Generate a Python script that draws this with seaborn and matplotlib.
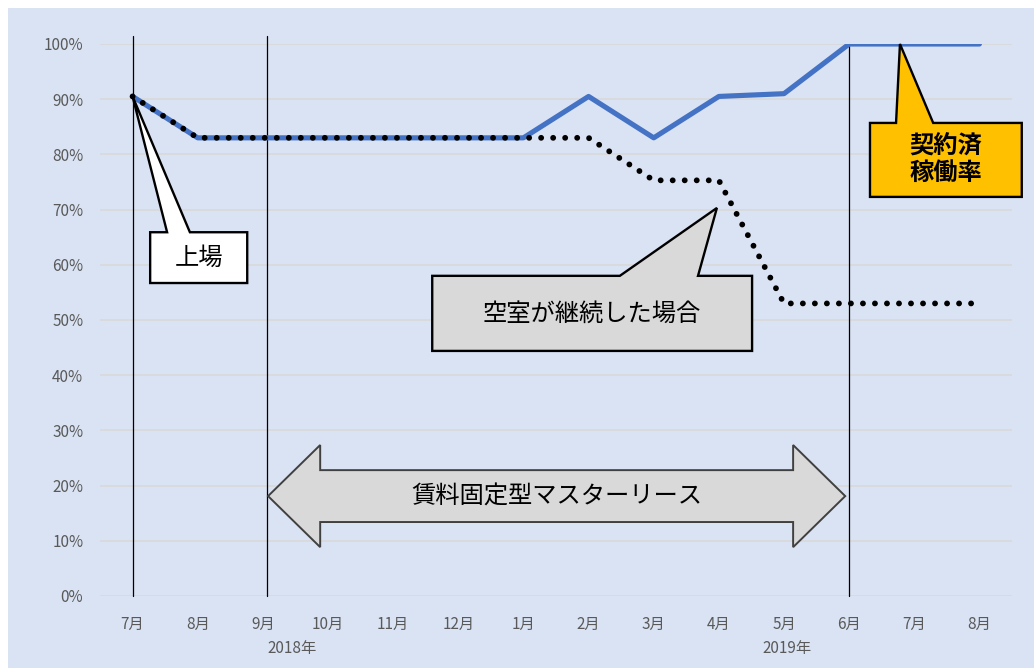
import matplotlib
matplotlib.use("Agg")
import matplotlib.pyplot as plt
from matplotlib.patches import Polygon, Rectangle
import seaborn as sns
import pandas as pd
import numpy as np

# 月別稼働率（2018年7月〜2019年8月）
months = ["7月", "8月", "9月", "10月", "11月", "12月", "1月",
          "2月", "3月", "4月", "5月", "6月", "7月", "8月"]
contracted_rate = [90.5, 83, 83, 83, 83, 83, 83, 90.5, 83, 90.5, 91, 100, 100, 100]
vacancy_rate = [90.5, 83, 83, 83, 83, 83, 83, 83, 75.3, 75.3, 53, 53, 53, 53]
y_ticks = [0, 10, 20, 30, 40, 50, 60, 70, 80, 90, 100]
year_labels = ["2018年", "2019年"]

BG = "#DAE3F3"
sns.set_theme(style="white")
plt.rcParams["font.family"] = ["Noto Sans CJK JP", "DejaVu Sans"]

fig = plt.figure(figsize=(10.34, 6.68), dpi=100)
fig.patch.set_facecolor("white")
fig.patches.append(Rectangle((8 / 1034, 0), 1 - 8 / 1034, 1 - 8 / 668,
                             transform=fig.transFigure, facecolor=BG,
                             edgecolor="none", zorder=-10))

ax = fig.add_axes([100 / 1034, (668 - 596) / 668, 912 / 1034, 552 / 668])
ax.set_facecolor(BG)
for s in ax.spines.values():
    s.set_visible(False)

df = pd.DataFrame({"idx": np.arange(len(months)),
                   "契約済稼働率": contracted_rate,
                   "空室継続": vacancy_rate})

ax.set_xlim(-0.5, len(months) - 0.5)
ax.set_ylim(0, 100)
ax.set_yticks(y_ticks)
ax.set_yticklabels([f"{v}%" for v in y_ticks], color="#595959", fontsize=11)
ax.yaxis.grid(True, color="#D9D9D9", linewidth=1.2)
ax.set_axisbelow(True)
ax.set_xticks(range(len(months)))
ax.set_xticklabels(months, color="#595959", fontsize=11)
ax.tick_params(axis="both", length=0, pad=12)
ax.tick_params(axis="x", pad=14)

# 縦の区切り線（上場・マスターリース開始・契約済）
for xi, top in [(0, 101.5), (2.07, 101.5), (11, 100)]:
    ax.plot([xi, xi], [0, top], color="black", linewidth=0.9, clip_on=False, zorder=2)

sns.lineplot(data=df, x="idx", y="契約済稼働率", ax=ax, color="#4472C4",
             linewidth=3.7, zorder=3, legend=False)
sns.lineplot(data=df, x="idx", y="空室継続", ax=ax, color="black",
             linewidth=4.2, linestyle=(0, (0.01, 2.05)), zorder=4, legend=False)
ax.lines[-1].set_dash_capstyle("round")
ax.set_xlabel("")
ax.set_ylabel("")

# 年ラベル
ax.text(2.45, -0.08, year_labels[0], transform=ax.get_xaxis_transform(),
        ha="center", va="top", fontsize=11, color="#595959")
ax.text(10.05, -0.08, year_labels[1], transform=ax.get_xaxis_transform(),
        ha="center", va="top", fontsize=11, color="#595959")


def callout(box, base, tip, text, face, **kw):
    x0, y0, x1, y1 = box
    bx0, bx1 = base
    pts = [(x0, y0), (bx0, y0), tip, (bx1, y0), (x1, y0), (x1, y1), (x0, y1)]
    ax.add_patch(Polygon(pts, closed=True, facecolor=face, edgecolor="black",
                         linewidth=1.7, zorder=6, clip_on=False))
    ax.text((x0 + x1) / 2, (y0 + y1) / 2, text, ha="center", va="center",
            zorder=7, **kw)


callout((0.27, 65.9, 1.76, 56.7), (0.53, 0.88), (0, contracted_rate[0]),
        "上場", "white", fontsize=17.5, color="black")
callout((4.60, 58.0, 9.51, 44.4), (7.48, 8.68), (8.97, 70.3),
        "空室が継続した場合", "#D9D9D9", fontsize=17.5, color="black")
callout((11.32, 85.7, 13.65, 72.3), (11.72, 12.29), (11.78, 100),
        "契約済\n稼働率", "#FFC000", fontsize=17.5, color="black",
        fontweight="bold", linespacing=1.1)

# 賃料固定型マスターリース期間の両矢印
xl, xl2, xr2, xr = 2.08, 2.88, 10.14, 10.94
yc, ys, yh = 18.1, 4.7, 9.25
arrow = [(xl, yc), (xl2, yc + yh), (xl2, yc + ys), (xr2, yc + ys), (xr2, yc + yh),
         (xr, yc), (xr2, yc - yh), (xr2, yc - ys), (xl2, yc - ys), (xl2, yc - yh)]
ax.add_patch(Polygon(arrow, closed=True, facecolor="#D9D9D9", edgecolor="#404040",
                     linewidth=1.4, zorder=6))
ax.text((xl + xr) / 2, yc, "賃料固定型マスターリース", ha="center", va="center",
        fontsize=17.5, color="black", zorder=7)

fig.savefig("out.png", dpi=100, facecolor=fig.get_facecolor())
